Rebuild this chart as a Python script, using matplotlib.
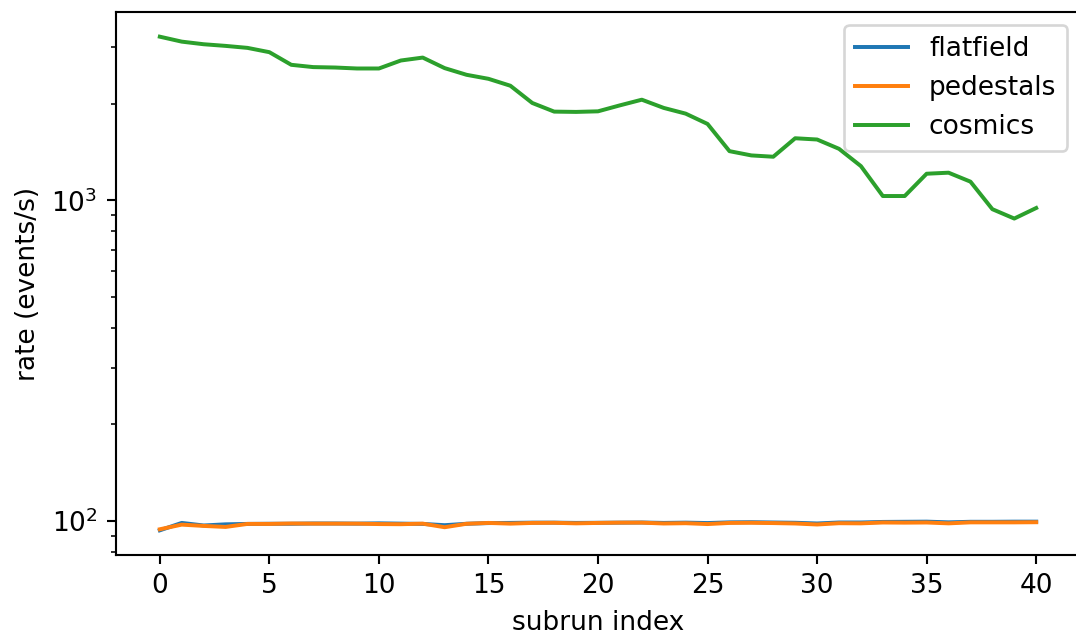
import numpy as np
import matplotlib
matplotlib.use("Agg")
import matplotlib.pyplot as plt

subrun = list(range(41))

flatfield = [93.5, 98.6, 96.8, 97.6, 97.9, 98.0, 98.0, 98.2, 98.2, 98.1, 98.3, 98.1, 97.9, 97.0, 98.0, 98.5,
             98.6, 98.8, 98.8, 98.6, 98.7, 98.8, 98.9, 98.6, 98.8, 98.5, 99.0, 99.1, 98.9, 98.7, 98.2,
             98.9, 98.9, 99.3, 99.4, 99.5, 99.0, 99.4, 99.4, 99.5, 99.5]
pedestals = [94.2, 97.4, 96.5, 95.8, 97.9, 97.9, 98.2, 98.1, 98.1, 98.1, 97.8, 97.7, 98.1, 95.6, 98.0, 98.6,
             98.1, 98.6, 98.7, 98.3, 98.6, 98.8, 98.8, 98.2, 98.4, 97.8, 98.6, 98.7, 98.5, 98.2, 97.5,
             98.4, 98.3, 98.9, 98.8, 98.9, 98.3, 99.0, 99.0, 99.0, 99.1]
cosmics = [3237, 3124, 3066, 3030, 2987, 2896, 2645, 2602, 2594, 2576, 2576, 2728, 2786, 2583, 2462, 2392,
           2276, 2011, 1890, 1886, 1894, 1977, 2059, 1941, 1863, 1730, 1423, 1380, 1367, 1561, 1547,
           1447, 1278, 1031, 1031, 1210, 1219, 1143, 938, 877, 946]

W, H, DPI = 1076, 639, 190
fig = plt.figure(figsize=(W / DPI, H / DPI), dpi=DPI)
ax = fig.add_axes([116 / W, (H - 555) / H, (1080 - 116) / W, (555 - 12) / H])

ax.plot(subrun, flatfield, label="flatfield")
ax.plot(subrun, pedestals, label="pedestals")
ax.plot(subrun, cosmics, label="cosmics")
ax.set_yscale("log")
ax.set_xlabel("subrun index")
ax.set_ylabel("rate (events/s)")
ax.legend(loc="upper right")

fig.savefig("out.png", dpi=DPI)
